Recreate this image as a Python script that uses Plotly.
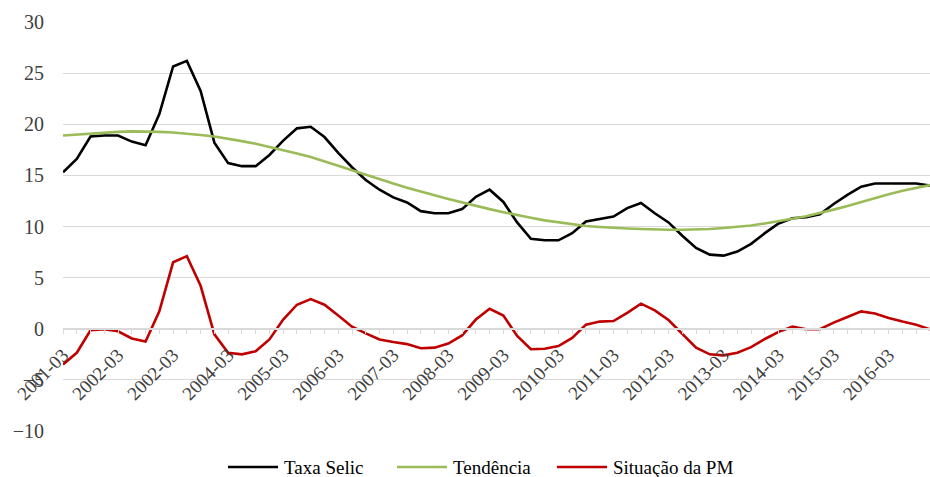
import plotly.graph_objects as go

# quarterly observations 2001Q1 .. 2016Q4 (64 points)
quarter_index = list(range(64))

taxa_selic = [15.3, 16.6, 18.8, 18.9, 18.9, 18.3, 17.95, 21.0, 25.65, 26.2,
              23.25, 18.2, 16.2, 15.9, 15.9, 17.0, 18.4, 19.6, 19.75, 18.75,
              17.2, 15.8, 14.55, 13.6, 12.85, 12.35, 11.5, 11.3, 11.3, 11.7,
              12.9, 13.6, 12.4, 10.4, 8.8, 8.65, 8.65, 9.35, 10.5, 10.7,
              10.97, 11.8, 12.3, 11.3, 10.4, 9.1, 7.9, 7.25, 7.15, 7.55,
              8.3, 9.35, 10.3, 10.8, 10.9, 11.2, 12.2, 13.1, 13.9, 14.2,
              14.2, 14.2, 14.2, 14.0]

tendencia = [18.9, 19.0, 19.1, 19.15, 19.25, 19.3, 19.3, 19.25, 19.2, 19.1,
             18.95, 18.8, 18.6, 18.35, 18.1, 17.8, 17.5, 17.15, 16.8, 16.4,
             15.95, 15.5, 15.05, 14.6, 14.2, 13.8, 13.4, 13.05, 12.7, 12.35,
             12.0, 11.7, 11.4, 11.1, 10.85, 10.6, 10.4, 10.2, 10.05, 9.95,
             9.85, 9.8, 9.75, 9.7, 9.68, 9.68, 9.7, 9.75, 9.85, 9.95,
             10.1, 10.3, 10.5, 10.75, 11.0, 11.3, 11.65, 12.0, 12.4, 12.8,
             13.15, 13.5, 13.8, 14.05]

situacao_pm = [-3.5, -2.35, -0.15, -0.05, -0.25, -0.95, -1.25, 1.7, 6.5, 7.1,
               4.2, -0.55, -2.35, -2.5, -2.2, -1.05, 0.9, 2.35, 2.9, 2.35,
               1.3, 0.2, -0.45, -1.05, -1.3, -1.5, -1.9, -1.85, -1.45, -0.65,
               0.9, 1.95, 1.3, -0.7, -2.0, -1.95, -1.7, -0.9, 0.4, 0.7,
               0.75, 1.55, 2.45, 1.8, 0.85, -0.55, -1.85, -2.5, -2.6, -2.35,
               -1.8, -1.0, -0.3, 0.2, -0.05, -0.05, 0.6, 1.15, 1.7, 1.5,
               1.05, 0.7, 0.4, -0.05]

tick_positions = [0, 4, 8, 12, 16, 20, 24, 28, 32, 36, 40, 44, 48, 52, 56, 60]
tick_labels = ["2001-03", "2002-03", "2002-03", "2004-03", "2005-03", "2006-03",
               "2007-03", "2008-03", "2009-03", "2010-03", "2011-03", "2012-03",
               "2013-03", "2014-03", "2015-03", "2016-03"]

series_names = ["Taxa Selic", "Tendência", "Situação da PM"]
series_colors = ["#000000", "#9bbb59", "#c00000"]

FONT = "'Liberation Serif', 'Times New Roman', Times, serif"
GRID = "#d9d9d9"
TXT = "#404040"

W, H = 930, 477
ML, MR, MT, MB = 63, 0, 22, 46
PW, PH = W - ML - MR, H - MT - MB


def px_x(p):
    return (p - ML) / PW


def px_y(p):
    return (H - MB - p) / PH


fig = go.Figure()
for name, vals, col in zip(series_names, [taxa_selic, tendencia, situacao_pm], series_colors):
    fig.add_trace(go.Scatter(x=quarter_index, y=vals, mode="lines", name=name,
                             line=dict(color=col, width=2.6), showlegend=False))

# manual legend (longer sample lines than plotly's built-in legend)
legend_line_starts = [228, 397, 557]
legend_y = 467
shapes = []
annotations = []
for name, col, x0 in zip(series_names, series_colors, legend_line_starts):
    shapes.append(dict(type="line", xref="paper", yref="paper",
                       x0=px_x(x0), x1=px_x(x0 + 50), y0=px_y(legend_y), y1=px_y(legend_y),
                       line=dict(color=col, width=2.6)))
    annotations.append(dict(xref="paper", yref="paper", x=px_x(x0 + 54), y=px_y(legend_y),
                            xanchor="left", yanchor="middle", showarrow=False, text=name,
                            font=dict(family=FONT, size=19, color="#000000")))

fig.update_layout(
    width=W, height=H,
    margin=dict(l=ML, r=MR, t=MT, b=MB, autoexpand=False),
    paper_bgcolor="white", plot_bgcolor="white",
    font=dict(family=FONT, size=19, color=TXT),
    showlegend=False,
    shapes=shapes, annotations=annotations,
    xaxis=dict(
        range=[0, 63], anchor="free", position=0.25, automargin=False,
        showgrid=False, zeroline=False,
        showline=True, linecolor=GRID, linewidth=1.5,
        tickmode="array", tickvals=tick_positions, ticktext=tick_labels,
        tickangle=-45, ticks="outside", ticklen=4, tickcolor=GRID, tickwidth=1,
        ticklabelstandoff=3,
        minor=dict(dtick=1, tick0=0, ticks="outside", ticklen=4, tickcolor=GRID, tickwidth=1),
        tickfont=dict(family=FONT, size=19, color=TXT),
    ),
    yaxis=dict(
        range=[-10, 30], dtick=5, tick0=0, automargin=False,
        showgrid=True, gridcolor=GRID, gridwidth=1.2,
        zeroline=False, showline=False, ticks="",
        ticklabelstandoff=18,
        tickfont=dict(family=FONT, size=20, color=TXT),
    ),
)

fig.write_html("out.html",
               config={"displayModeBar": False},
               post_script="document.body.style.margin='0';document.body.style.overflow='hidden';")
